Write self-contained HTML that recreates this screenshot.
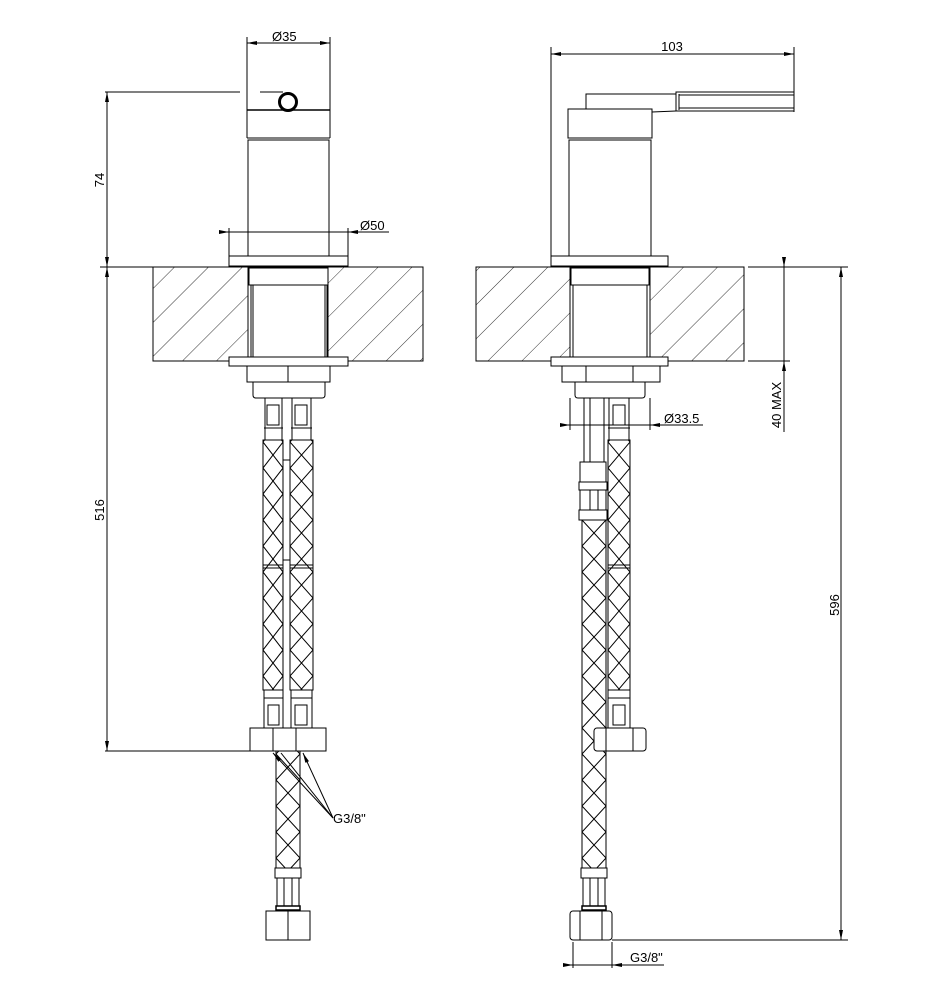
<!DOCTYPE html>
<html><head><meta charset="utf-8"><style>
html,body{margin:0;padding:0;background:#fff}
svg{display:block}
text{font-family:"Liberation Sans",sans-serif;font-size:13px;fill:#000}
</style></head><body>
<svg width="950" height="999" viewBox="0 0 950 999" xmlns="http://www.w3.org/2000/svg">
<defs>
<pattern id="hatch" patternUnits="userSpaceOnUse" width="24" height="24" patternTransform="rotate(45)">
<line x1="0" y1="0" x2="0" y2="24" stroke="#000" stroke-width="0.8"/></pattern>
<marker id="ar" markerWidth="10" markerHeight="6" refX="10" refY="3" orient="auto-start-reverse" markerUnits="userSpaceOnUse">
<path d="M0,1 L10,3 L0,5 Z" fill="#000"/></marker>
<pattern id="b1" patternUnits="userSpaceOnUse" x="263" y="0" width="20" height="26"><path d="M0,0 L20,26 M20,0 L0,26" stroke="#000" stroke-width="1" fill="none"/></pattern>
<pattern id="b2" patternUnits="userSpaceOnUse" x="290" y="0" width="23" height="26"><path d="M0,0 L23,26 M23,0 L0,26" stroke="#000" stroke-width="1" fill="none"/></pattern>
<pattern id="b3" patternUnits="userSpaceOnUse" x="276" y="0" width="24" height="26"><path d="M0,0 L24,26 M24,0 L0,26" stroke="#000" stroke-width="1" fill="none"/></pattern>
<pattern id="b4" patternUnits="userSpaceOnUse" x="582" y="0" width="24" height="26"><path d="M0,0 L24,26 M24,0 L0,26" stroke="#000" stroke-width="1" fill="none"/></pattern>
<pattern id="b5" patternUnits="userSpaceOnUse" x="608" y="0" width="22" height="26"><path d="M0,0 L22,26 M22,0 L0,26" stroke="#000" stroke-width="1" fill="none"/></pattern>
</defs>
<g fill="none" stroke="#000" stroke-width="1">
<rect x="153" y="267" width="95" height="94" fill="url(#hatch)"/>
<rect x="328" y="267" width="95" height="94" fill="url(#hatch)"/>
<line x1="153" y1="267" x2="423" y2="267"/>
<line x1="153" y1="361" x2="423" y2="361"/>
<line x1="247" y1="37" x2="247" y2="138"/>
<line x1="330" y1="37" x2="330" y2="138"/>
<line x1="247" y1="43" x2="330" y2="43" marker-start="url(#ar)" marker-end="url(#ar)"/>
<line x1="247" y1="110" x2="330" y2="110" stroke-width="1.5"/>
<line x1="247" y1="138" x2="330" y2="138"/>
<line x1="105" y1="92" x2="240" y2="92"/>
<line x1="260" y1="92" x2="283" y2="92"/>
<circle cx="288" cy="102" r="8.5" stroke-width="3" fill="#fff"/>
<rect x="248" y="140" width="81" height="116"/>
<line x1="229" y1="228" x2="229" y2="256"/>
<line x1="348" y1="228" x2="348" y2="256"/>
<line x1="219" y1="232" x2="229" y2="232" marker-end="url(#ar)"/>
<line x1="229" y1="232" x2="348" y2="232"/>
<line x1="358" y1="232" x2="348" y2="232" marker-end="url(#ar)"/>
<line x1="348" y1="232" x2="389" y2="232"/>
<rect x="229" y="256" width="119" height="10" fill="#fff"/>
<rect x="249" y="268" width="79" height="17" fill="#fff"/>
<rect x="251" y="285" width="76" height="72" fill="#fff"/>
<line x1="253" y1="285" x2="253" y2="357"/>
<line x1="325" y1="285" x2="325" y2="357"/>
<rect x="229" y="357" width="119" height="9" fill="#fff"/>
<rect x="247" y="366" width="83" height="16"/>
<line x1="288" y1="366" x2="288" y2="382"/>
<path d="M253,382 V395 Q253,398 256,398 H322 Q325,398 325,395 V382"/>
<rect x="263" y="440" width="20" height="250" fill="url(#b1)"/>
<rect x="290" y="440" width="23" height="250" fill="url(#b2)"/>
<line x1="263" y1="565" x2="283" y2="565"/><line x1="290" y1="565" x2="313" y2="565"/>
<line x1="263" y1="568" x2="283" y2="568"/><line x1="290" y1="568" x2="313" y2="568"/>
<rect x="283" y="460" width="7" height="100" fill="#fff"/>
<rect x="265" y="398" width="17" height="42"/><rect x="267" y="405" width="12" height="20"/>
<rect x="292" y="398" width="19" height="42"/><rect x="295" y="405" width="12" height="20"/>
<line x1="264" y1="428" x2="283" y2="428"/><line x1="291" y1="428" x2="312" y2="428"/>
<rect x="264" y="690" width="19" height="38" fill="#fff"/><rect x="268" y="705" width="11" height="20"/>
<rect x="291" y="690" width="21" height="38" fill="#fff"/><rect x="295" y="705" width="12" height="20"/>
<line x1="264" y1="698" x2="283" y2="698"/><line x1="291" y1="698" x2="312" y2="698"/>
<rect x="250" y="728" width="76" height="23" fill="#fff"/>
<line x1="273" y1="728" x2="273" y2="751"/><line x1="296" y1="728" x2="296" y2="751"/>
<rect x="276" y="751" width="24" height="117" fill="url(#b3)"/>
<rect x="275" y="868" width="26" height="10" fill="#fff"/>
<rect x="277" y="878" width="22" height="28"/>
<line x1="284" y1="878" x2="284" y2="906"/><line x1="292" y1="878" x2="292" y2="906"/>
<rect x="276" y="906" width="24" height="4" stroke-width="1.5"/>
<rect x="266" y="911" width="44" height="29" fill="#fff"/>
<line x1="288" y1="911" x2="288" y2="940"/>
<line x1="107" y1="92" x2="107" y2="267" marker-start="url(#ar)" marker-end="url(#ar)"/>
<line x1="107" y1="267" x2="107" y2="751" marker-start="url(#ar)" marker-end="url(#ar)"/>
<line x1="100" y1="267" x2="153" y2="267"/>
<line x1="105" y1="751" x2="250" y2="751"/>
<line x1="333" y1="818" x2="273" y2="753" marker-end="url(#ar)"/>
<line x1="333" y1="818" x2="281" y2="753"/>
<line x1="333" y1="818" x2="303" y2="753" marker-end="url(#ar)"/>

<rect x="476" y="267" width="94" height="94" fill="url(#hatch)"/>
<rect x="650" y="267" width="94" height="94" fill="url(#hatch)"/>
<line x1="476" y1="267" x2="744" y2="267"/>
<line x1="476" y1="361" x2="744" y2="361"/>
<line x1="551" y1="47" x2="551" y2="262"/>
<line x1="794" y1="47" x2="794" y2="112"/>
<line x1="551" y1="54" x2="794" y2="54" marker-start="url(#ar)" marker-end="url(#ar)"/>
<path d="M586,110 V94 H676"/>
<path d="M652,112 L676,111"/>
<rect x="676" y="92" width="118" height="19"/>
<line x1="679" y1="94" x2="679" y2="110"/>
<line x1="679" y1="95" x2="794" y2="95"/>
<line x1="679" y1="108" x2="794" y2="108"/>
<rect x="568" y="109" width="84" height="29" fill="#fff"/>
<rect x="569" y="140" width="82" height="116"/>
<rect x="551" y="256" width="117" height="10" fill="#fff"/>
<rect x="571" y="268" width="78" height="17" fill="#fff"/>
<rect x="573" y="285" width="74" height="72" fill="#fff"/>
<rect x="551" y="357" width="117" height="9" fill="#fff"/>
<rect x="562" y="366" width="98" height="16"/>
<line x1="586" y1="366" x2="586" y2="382"/><line x1="633" y1="366" x2="633" y2="382"/>
<path d="M575,382 V395 Q575,398 578,398 H642 Q645,398 645,395 V382"/>
<line x1="570" y1="398" x2="570" y2="430"/>
<line x1="650" y1="398" x2="650" y2="430"/>
<line x1="560" y1="425" x2="570" y2="425" marker-end="url(#ar)"/>
<line x1="570" y1="425" x2="650" y2="425"/>
<line x1="660" y1="425" x2="650" y2="425" marker-end="url(#ar)"/>
<line x1="650" y1="425" x2="703" y2="425"/>
<rect x="584" y="398" width="20" height="64"/>
<line x1="590" y1="398" x2="590" y2="462"/>
<rect x="580" y="462" width="26" height="20" fill="#fff"/>
<rect x="579" y="482" width="28" height="8"/>
<rect x="580" y="490" width="26" height="20"/>
<line x1="590" y1="490" x2="590" y2="510"/><line x1="598" y1="490" x2="598" y2="510"/>
<rect x="579" y="510" width="28" height="10"/>
<rect x="582" y="520" width="24" height="348" fill="url(#b4)"/>
<rect x="581" y="868" width="26" height="10" fill="#fff"/>
<rect x="583" y="878" width="22" height="28"/>
<line x1="590" y1="878" x2="590" y2="906"/><line x1="598" y1="878" x2="598" y2="906"/>
<rect x="582" y="906" width="24" height="4" stroke-width="1.5"/>
<rect x="570" y="911" width="42" height="29" rx="3" fill="#fff"/>
<line x1="580" y1="911" x2="580" y2="940"/><line x1="602" y1="911" x2="602" y2="940"/>
<rect x="609" y="398" width="20" height="42"/><rect x="613" y="405" width="12" height="20"/>
<line x1="608" y1="428" x2="630" y2="428"/>
<rect x="608" y="440" width="22" height="250" fill="url(#b5)"/>
<line x1="608" y1="565" x2="630" y2="565"/><line x1="608" y1="568" x2="630" y2="568"/>
<rect x="608" y="690" width="22" height="38" fill="#fff"/><rect x="613" y="705" width="12" height="20"/>
<line x1="608" y1="698" x2="630" y2="698"/>
<rect x="594" y="728" width="52" height="23" rx="3" fill="#fff"/>
<line x1="606" y1="728" x2="606" y2="751"/><line x1="633" y1="728" x2="633" y2="751"/>
<line x1="748" y1="267" x2="790" y2="267"/>
<line x1="748" y1="361" x2="790" y2="361"/>
<line x1="784" y1="258" x2="784" y2="267" marker-end="url(#ar)"/>
<line x1="784" y1="267" x2="784" y2="361"/>
<line x1="784" y1="371" x2="784" y2="361" marker-end="url(#ar)"/>
<line x1="784" y1="361" x2="784" y2="432"/>
<line x1="750" y1="267" x2="848" y2="267"/>
<line x1="612" y1="940" x2="848" y2="940"/>
<line x1="841" y1="267" x2="841" y2="940" marker-start="url(#ar)" marker-end="url(#ar)"/>
<line x1="573" y1="942" x2="573" y2="968"/>
<line x1="612" y1="942" x2="612" y2="968"/>
<line x1="563" y1="965" x2="573" y2="965" marker-end="url(#ar)"/>
<line x1="573" y1="965" x2="612" y2="965"/>
<line x1="622" y1="965" x2="612" y2="965" marker-end="url(#ar)"/>
<line x1="612" y1="965" x2="664" y2="965"/>
</g>
<text x="272" y="41">Ø35</text>
<text x="360" y="230">Ø50</text>
<text x="104" y="180" transform="rotate(-90 104 180)" text-anchor="middle">74</text>
<text x="104" y="510" transform="rotate(-90 104 510)" text-anchor="middle">516</text>
<text x="333" y="823">G3/8"</text>
<text x="672" y="51" text-anchor="middle">103</text>
<text x="664" y="423">Ø33.5</text>
<text x="781" y="405" transform="rotate(-90 781 405)" text-anchor="middle">40 MAX</text>
<text x="839" y="605" transform="rotate(-90 839 605)" text-anchor="middle">596</text>
<text x="630" y="962">G3/8"</text>
</svg>
</body></html>
